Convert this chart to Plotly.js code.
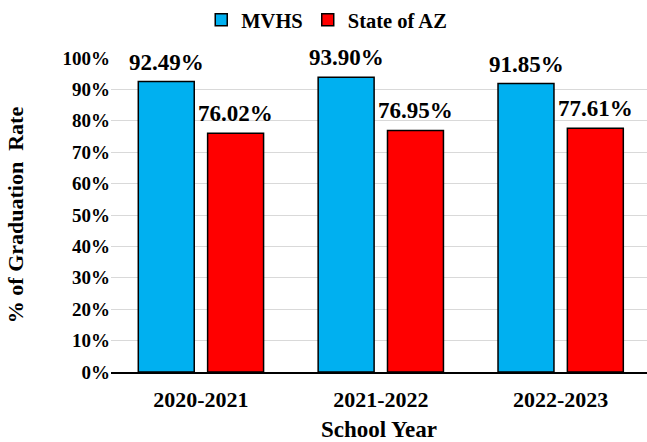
<!DOCTYPE html>
<html>
<head>
<meta charset="utf-8">
<script src="https://cdn.plot.ly/plotly-3.0.1.min.js"></script>
<style>html,body{margin:0;padding:0;background:#fff;}#chart{width:647px;height:442px;}</style>
</head>
<body>
<div id="chart"></div>
<script>
const years = ["2020-2021", "2021-2022", "2022-2023"];
const mvhs = [92.49, 93.90, 91.85];
const stateAZ = [76.02, 76.95, 77.61];
const seriesNames = ["MVHS", "State of AZ"];

const FONT = "Liberation Serif";
const bargap = 0.229, bargroupgap = 0.193;
const off = (1 - bargap) / 4;

const traces = [
  {type: "bar", name: seriesNames[0], x: years, y: mvhs,
   marker: {color: "#00B0F0", line: {color: "#000", width: 1.5}}},
  {type: "bar", name: seriesNames[1], x: years, y: stateAZ,
   marker: {color: "#FF0000", line: {color: "#000", width: 1.5}}}
];

const annotations = [];
years.forEach((c, i) => {
  [[mvhs, -off], [stateAZ, off]].forEach(([arr, dx]) => {
    annotations.push({
      x: i + dx, y: arr[i], xref: "x", yref: "y",
      text: arr[i].toFixed(2) + "%", showarrow: false,
      yanchor: "bottom", yshift: 5,
      font: {family: FONT, size: 23, color: "#000", weight: "bold"}
    });
  });
});

const layout = {
  width: 647, height: 442,
  margin: {l: 111, r: 0, t: 58, b: 70},
  paper_bgcolor: "#fff", plot_bgcolor: "#fff",
  barmode: "group", bargap: bargap, bargroupgap: bargroupgap,
  font: {family: FONT, color: "#000", weight: "bold"},
  showlegend: true,
  legend: {orientation: "h", xref: "container", yref: "container", x: 0.505, xanchor: "center",
           y: 1, yanchor: "top", font: {family: FONT, size: 20.5, weight: "bold", color: "#000"},
           itemwidth: 30, tracegroupgap: 0},
  xaxis: {type: "category", range: [-0.5, 2.48], autorange: false,
          showline: true, linecolor: "#000", linewidth: 2, ticks: "",
          ticklabelstandoff: 7,
          tickfont: {family: FONT, size: 22, weight: "bold", color: "#000"},
          title: {text: "School Year", font: {family: FONT, size: 23, weight: "bold", color: "#000"}, standoff: 10}},
  yaxis: {range: [0, 100], autorange: false, dtick: 10, ticksuffix: "%", showgrid: true, gridcolor: "#d9d9d9", gridwidth: 1,
          zeroline: false, showline: false, ticks: "",
          tickfont: {family: FONT, size: 19, weight: "bold", color: "#000"},
          title: {text: "% of Graduation  Rate", font: {family: FONT, size: 22, weight: "bold", color: "#000"}, standoff: 32}},
  annotations: annotations
};

Plotly.newPlot("chart", traces, layout, {displayModeBar: false, staticPlot: true});
</script>
</body>
</html>
